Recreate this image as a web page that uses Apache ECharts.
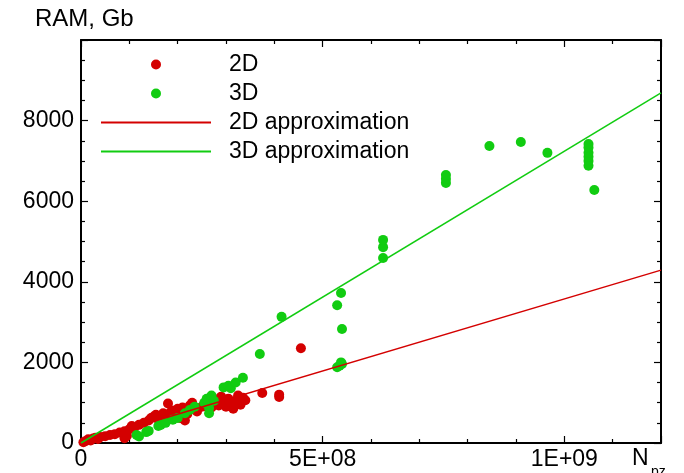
<!DOCTYPE html>
<html>
<head>
<meta charset="utf-8">
<script src="https://cdn.jsdelivr.net/npm/echarts@6/dist/echarts.min.js"></script>
<style>
html,body{margin:0;padding:0;background:#fff;}
#chart{width:684px;height:473px;}
</style>
</head>
<body>
<div id="chart"></div>
<script>
// ---- data ----
const seriesNames = ['2D', '3D', '2D approximation', '3D approximation'];
const points2D = [
  [0.05e8,20],[0.1e8,50],[0.15e8,90],[0.2e8,60],[0.25e8,110],[0.3e8,130],[0.35e8,100],[0.4e8,150],
  [0.5e8,170],[0.6e8,200],[0.7e8,220],[0.8e8,260],[0.9e8,290],[0.9e8,120],[0.95e8,180],[1.0e8,340],
  [1.05e8,420],[1.1e8,380],[1.2e8,450],[1.3e8,500],[1.4e8,560],[1.45e8,620],[1.5e8,650],[1.55e8,700],
  [1.6e8,580],[1.7e8,740],[1.75e8,680],[1.8e8,980],[1.85e8,760],[1.9e8,800],[2.0e8,850],[2.05e8,620],
  [2.1e8,880],[2.15e8,560],[2.2e8,720],[2.25e8,930],[2.3e8,1000],[2.35e8,870],[2.4e8,780],[2.5e8,900],
  [2.6e8,950],[2.7e8,880],[2.75e8,1000],[2.8e8,1080],[2.85e8,930],[2.9e8,1150],[2.95e8,1020],[3.0e8,900],
  [3.05e8,1100],[3.1e8,980],[3.15e8,850],[3.2e8,1050],[3.25e8,1180],[3.3e8,950],[3.35e8,1120],[3.4e8,1060],
  [3.75e8,1240],[4.1e8,1200],[4.1e8,1140],[4.55e8,2350]
];
const points3D = [
  [1.15e8,200],[1.2e8,160],[1.35e8,270],[1.4e8,300],[1.6e8,420],[1.65e8,450],[1.75e8,500],[1.9e8,580],
  [2.0e8,620],[2.15e8,740],[2.25e8,820],[2.35e8,900],[2.55e8,1000],[2.6e8,1100],[2.7e8,1180],[2.75e8,1050],
  [2.65e8,870],[2.65e8,740],[2.95e8,1380],[3.05e8,1420],[3.1e8,1360],[3.2e8,1500],[3.35e8,1620],
  [3.7e8,2210],[4.15e8,3130],[5.3e8,1880],[5.35e8,1920],[5.4e8,1960],[5.38e8,2000],[5.4e8,2830],
  [5.3e8,3420],[5.38e8,3720],[6.25e8,4590],[6.25e8,4860],[6.25e8,5040],[7.55e8,6450],[7.55e8,6550],
  [7.55e8,6650],[8.45e8,7370],[9.1e8,7470],[9.65e8,7200],[10.5e8,6880],[10.5e8,7000],[10.5e8,7100],
  [10.5e8,7200],[10.5e8,7330],[10.5e8,7420],[10.62e8,6280]
];
const approx2D = [[0,0],[12e8,4290]];
const approx3D = [[0,0],[12e8,8690]];
const xTickValues = [0, 5e8, 1e9];
const xTickLabels = ['0', '5E+08', '1E+09'];
const yTickValues = [0, 2000, 4000, 6000, 8000];
const yTickLabels = ['0', '2000', '4000', '6000', '8000'];
const yTitle = 'RAM, Gb';
const xTitleMain = 'N';
const xTitleSub = 'pz';

// ---- chart ----
const RED = '#d40000', GREEN = '#11cc11';
const FONT = '"Liberation Sans", Arial, sans-serif';
const FS = 23;
const chart = echarts.init(document.getElementById('chart'), null, {renderer: 'canvas'});

function xFmt(v) { const i = xTickValues.indexOf(v); return i >= 0 ? xTickLabels[i] : ''; }
function yFmt(v) { const i = yTickValues.indexOf(v); return i >= 0 ? yTickLabels[i] : ''; }

const axisLine = {show: true, onZero: false, lineStyle: {color: '#000', width: 2}};
const tick = {show: true, inside: true, length: 7, lineStyle: {color: '#000', width: 1.2}};
const minor = {show: true, splitNumber: 5, length: 4, lineStyle: {color: '#000', width: 1.2}};
const minorY = {show: true, splitNumber: 4, length: 4, lineStyle: {color: '#000', width: 1.2}};

function xAx(pos, labels) {
  return {
    type: 'value', position: pos, min: 0, max: 12e8, interval: 5e8,
    axisLine: axisLine, axisTick: tick, minorTick: minor,
    splitLine: {show: false}, minorSplitLine: {show: false},
    axisLabel: labels ? {show: true, formatter: xFmt, color: '#000', fontSize: FS, fontFamily: FONT, margin: 5} : {show: false}
  };
}
function yAx(pos, labels) {
  return {
    type: 'value', position: pos, min: 0, max: 10000, interval: 2000,
    axisLine: axisLine, axisTick: tick, minorTick: minorY,
    splitLine: {show: false}, minorSplitLine: {show: false},
    axisLabel: labels ? {show: true, formatter: yFmt, color: '#000', fontSize: FS, fontFamily: FONT, margin: 7} : {show: false}
  };
}

const option = {
  animation: false,
  backgroundColor: '#fff',
  grid: {left: 81, right: 23, top: 40, bottom: 30, containLabel: false},
  title: {
    text: yTitle, left: 35, top: 7, padding: 0,
    textStyle: {fontSize: 24, fontWeight: 'normal', color: '#000', fontFamily: FONT}
  },
  graphic: [
    {type: 'text', left: 632, top: 447, style: {text: xTitleMain, fontSize: FS, fill: '#000', fontFamily: FONT}},
    {type: 'text', left: 651, top: 465, style: {text: xTitleSub, fontSize: 14, fill: '#000', fontFamily: FONT}}
  ],
  legend: {
    orient: 'vertical', left: 100, top: 53, padding: 0, itemGap: 6,
    itemWidth: 110, itemHeight: 10,
    data: [
      {name: seriesNames[0], icon: 'circle'},
      {name: seriesNames[1], icon: 'circle'},
      {name: seriesNames[2], itemStyle: {opacity: 0}},
      {name: seriesNames[3], itemStyle: {opacity: 0}}
    ],
    textStyle: {fontSize: FS, color: '#000', fontFamily: FONT, lineHeight: 23, padding: [0, 0, 0, 13]}
  },
  xAxis: [xAx('bottom', true), xAx('top', false)],
  yAxis: [yAx('left', true), yAx('right', false)],
  series: [
    {name: seriesNames[0], type: 'scatter', data: points2D, symbol: 'circle', symbolSize: 10,
     itemStyle: {color: RED, opacity: 1}, xAxisIndex: 0, yAxisIndex: 0},
    {name: seriesNames[1], type: 'scatter', data: points3D, symbol: 'circle', symbolSize: 10,
     itemStyle: {color: GREEN, opacity: 1}, xAxisIndex: 0, yAxisIndex: 0},
    {name: seriesNames[2], type: 'line', data: approx2D, showSymbol: false, symbol: 'none',
     lineStyle: {color: RED, width: 1.5}, itemStyle: {color: RED}, xAxisIndex: 0, yAxisIndex: 0},
    {name: seriesNames[3], type: 'line', data: approx3D, showSymbol: false, symbol: 'none',
     lineStyle: {color: GREEN, width: 1.5}, itemStyle: {color: GREEN}, xAxisIndex: 0, yAxisIndex: 0}
  ]
};
chart.setOption(option);
</script>
</body>
</html>
